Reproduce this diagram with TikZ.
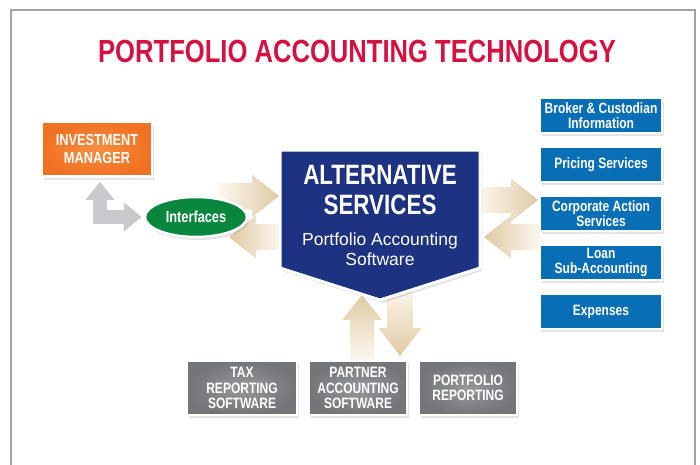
\documentclass[tikz,border=0pt]{standalone}
\usepackage{fontspec}
\setmainfont{Liberation Sans}[FakeStretch=0.8]
\newfontfamily\widefont{Liberation Sans}
\usetikzlibrary{positioning,calc,shapes.geometric,shadows,arrows.meta}

\definecolor{titlered}{RGB}{212,18,66}
\definecolor{framegray}{RGB}{160,162,165}
\definecolor{imorange}{RGB}{241,113,34}
\definecolor{imorangelight}{RGB}{247,142,64}
\definecolor{ifgreen}{RGB}{8,134,62}
\definecolor{asnavy}{RGB}{29,50,128}
\definecolor{svblue}{RGB}{8,110,182}
\definecolor{swgray}{RGB}{116,117,121}
\definecolor{swgraylight}{RGB}{150,151,155}
\definecolor{linkgray}{RGB}{200,201,204}
\definecolor{linktan}{RGB}{224,202,164}
\definecolor{linkpale}{RGB}{252,248,241}

\tikzset{
  ba shaft/.store in=\bashaft, ba shaft=13pt,
  ba head/.store in=\bahead, ba head=21.5pt,
  ba len/.store in=\balen, ba len=27pt,
  blockarrow/.style={to path={
    ($(\tikztostart)!\bashaft!90:(\tikztotarget)$)
    -- ($(\tikztotarget)!\balen!(\tikztostart)!\bashaft!-90:(\tikztostart)$)
    -- ($(\tikztotarget)!\balen!(\tikztostart)!\bahead!-90:(\tikztostart)$)
    -- (\tikztotarget)
    -- ($(\tikztotarget)!\balen!(\tikztostart)!\bahead!90:(\tikztostart)$)
    -- ($(\tikztotarget)!\balen!(\tikztostart)!\bashaft!90:(\tikztostart)$)
    -- ($(\tikztostart)!\bashaft!-90:(\tikztotarget)$) -- cycle}},
  tanright/.style={blockarrow, left color=linkpale, right color=linktan},
  tanleft/.style={blockarrow, left color=linktan, right color=linkpale},
  tanup/.style={blockarrow, top color=linktan, bottom color=linkpale},
  tandown/.style={blockarrow, top color=linkpale, bottom color=linktan},
  softshadow/.style={drop shadow={opacity=0.22, shadow xshift=2pt, shadow yshift=-3pt}},
  frame/.style={draw=framegray, line width=2pt},
  titletext/.style={text=titlered, font=\fontsize{32}{34}\selectfont\bfseries},
  imbox/.style={draw=white, line width=2.5pt, inner color=imorangelight, outer color=imorange,
    minimum width=110pt, minimum height=55pt, inner sep=1pt, text=white, align=center,
    font=\fontsize{16}{17.5}\selectfont\bfseries, softshadow},
  ifoval/.style={ellipse, draw=white, line width=2.5pt, fill=ifgreen, minimum width=102pt,
    minimum height=40pt, inner sep=0pt, text=white, font=\fontsize{16}{17}\selectfont\bfseries, softshadow},
  asshape/.style={fill=asnavy, draw=white, line width=3pt, softshadow},
  astitle/.style={text=white, align=center, font=\fontsize{28}{30}\selectfont\bfseries},
  assub/.style={text=white, align=center, font=\widefont\fontsize{17.5}{20}\selectfont},
  svbox/.style={draw=white, line width=2.5pt, fill=svblue, minimum width=122pt, minimum height=35pt,
    inner sep=1pt, text=white, align=center, font=\fontsize{15}{15.5}\selectfont\bfseries, softshadow},
  swbox/.style={draw=white, line width=2.5pt, inner color=swgraylight, outer color=swgray,
    minimum width=98pt, minimum height=54pt, inner sep=1pt, text=white, align=center,
    font=\fontsize{15}{15.5}\selectfont\bfseries, softshadow},
  linkarrow/.style={draw=linkgray, line width=14pt,
    {Triangle[width=28pt,length=18pt]}-{Triangle[width=28pt,length=18pt]}},
}

\begin{document}
\begin{tikzpicture}[x=1pt,y=-1pt]
  \useasboundingbox (0,0) rectangle (700,464);
  \draw[frame] (11,10) rectangle (695,480);
  \node (title) [titletext] at (357,51.5) {PORTFOLIO ACCOUNTING TECHNOLOGY};

  \coordinate (a1s) at (218,196);
  \coordinate (a1t) at (279,196);
  \coordinate (a2s) at (282,237);
  \coordinate (a2t) at (229,237);
  \coordinate (a3s) at (478,200);
  \coordinate (a3t) at (538,200);
  \coordinate (a4s) at (541,237);
  \coordinate (a4t) at (484,237);
  \coordinate (a5s) at (362,360);
  \coordinate (a5t) at (362,295);
  \coordinate (a6s) at (400,285);
  \coordinate (a6t) at (400,356);
  \shade[tanright] (a1s) to (a1t);
  \shade[tanleft] (a2s) to (a2t);
  \shade[tanright] (a3s) to (a3t);
  \shade[tanleft] (a4s) to (a4t);
  \shade[tanup, ba shaft=12pt, ba head=20pt, ba len=25pt] (a5s) to (a5t);
  \shade[tandown, ba shaft=13pt, ba head=21.5pt, ba len=28pt] (a6s) to (a6t);

  \node (im) [imbox] at (97,149) {INVESTMENT\\MANAGER};
  \node (if) [ifoval] at (196,217) {Interfaces};
  \draw[linkarrow, shorten <=4pt, shorten >=2pt] ([xshift=3pt]im.south) |- (if.west);

  \node (as) [minimum width=200pt, minimum height=118pt, outer sep=0pt] at (380,209) {};
  \coordinate (asp) at ([yshift=-32pt]as.south);
  \filldraw[asshape] (as.north west) -- (as.north east) -- (as.south east) -- (asp)
    -- (as.south west) -- cycle;
  \node (ast) [astitle] at (380,190) {ALTERNATIVE\\SERVICES};
  \node (asd) [assub] at (380,249) {Portfolio Accounting\\Software};

  \node (bc) [svbox] at (601,115.5) {Broker \& Custodian\\Information};
  \node (ps) [svbox, below=11.5pt of bc] {Pricing Services};
  \node (co) [svbox, below=11.5pt of ps] {Corporate Action\\Services};
  \node (ln) [svbox, below=11.5pt of co] {Loan\\Sub-Accounting};
  \node (ex) [svbox, below=11.5pt of ln] {Expenses};

  \node (tx) [swbox, minimum width=110pt] at (242,388) {TAX\\REPORTING\\SOFTWARE};
  \node (pa) [swbox, right=9.5pt of tx] {PARTNER\\ACCOUNTING\\SOFTWARE};
  \node (pr) [swbox, right=9.5pt of pa] {PORTFOLIO\\REPORTING};
\end{tikzpicture}
\end{document}
